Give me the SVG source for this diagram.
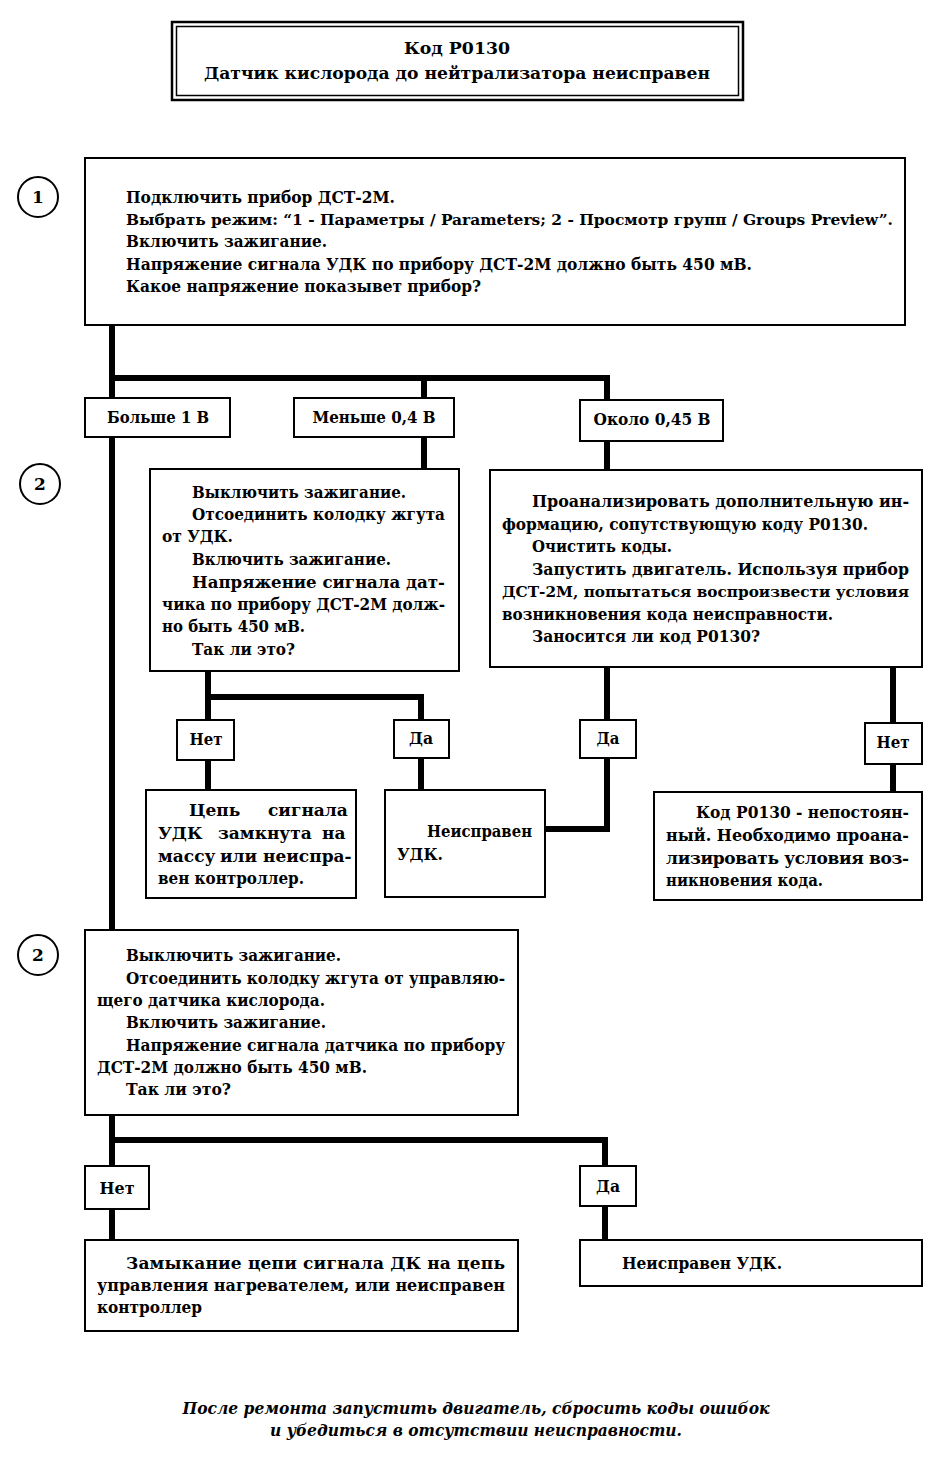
<svg xmlns="http://www.w3.org/2000/svg" width="951" height="1466" viewBox="0 0 951 1466">
<style>
  .bg{fill:#ffffff}
  .box{fill:#ffffff;stroke:#000;stroke-width:2}
  .conn{fill:none;stroke:#000;stroke-width:6;stroke-linejoin:miter;stroke-linecap:butt}
  .t{font-family:"DejaVu Serif","Liberation Serif",serif;font-weight:bold;font-size:17px;fill:#000}
  .s{font-size:15px}
  .c{text-anchor:middle}
  .it{font-style:italic}
  .step{fill:#fff;stroke:#000;stroke-width:2}
</style>
<rect class="bg" x="0" y="0" width="951" height="1466"/>

<g id="connectors">
  <path class="conn" d="M112 325 V930"/>
  <path class="conn" d="M112 378 H607 V400"/>
  <path class="conn" d="M424 378 V398"/>
  <path class="conn" d="M424 437 V470"/>
  <path class="conn" d="M607 441 V470"/>
  <path class="conn" d="M208 671 V720"/>
  <path class="conn" d="M208 697 H421 V720"/>
  <path class="conn" d="M208 760 V790"/>
  <path class="conn" d="M421 758 V790"/>
  <path class="conn" d="M607 667 V720"/>
  <path class="conn" d="M607 758 V829 H545"/>
  <path class="conn" d="M893 667 V723"/>
  <path class="conn" d="M893 764 V792"/>
  <path class="conn" d="M112 1115 V1239"/>
  <path class="conn" d="M112 1140 H605 V1166"/>
  <path class="conn" d="M605 1206 V1239"/>
</g>

<g id="title">
  <rect x="172" y="22" width="571" height="78" fill="#fff" stroke="#000" stroke-width="2.5"/>
  <rect x="176.5" y="26.5" width="562" height="69" fill="none" stroke="#000" stroke-width="1.5"/>
  <text class="t c" x="457" y="54" textLength="106" lengthAdjust="spacingAndGlyphs">Код P0130</text>
  <text class="t c" x="457" y="79" textLength="506" lengthAdjust="spacingAndGlyphs">Датчик кислорода до нейтрализатора неисправен</text>
</g>

<g id="step1">
  <ellipse class="step" cx="38" cy="197" rx="20" ry="20"/>
  <text class="t c" x="38" y="203">1</text>
</g>
<g id="step2a">
  <ellipse class="step" cx="40" cy="484" rx="20" ry="20"/>
  <text class="t c" x="40" y="490">2</text>
</g>
<g id="step2b">
  <ellipse class="step" cx="38" cy="955" rx="20" ry="20"/>
  <text class="t c" x="38" y="961">2</text>
</g>

<g id="box1">
  <rect class="box" x="85" y="158" width="820" height="167"/>
  <text class="t" x="126" y="203" textLength="269" lengthAdjust="spacingAndGlyphs">Подключить прибор ДСТ-2М.</text>
  <text class="t s" x="126" y="225" textLength="767" lengthAdjust="spacingAndGlyphs">Выбрать режим: “1 - Параметры / Parameters; 2 - Просмотр групп / Groups Preview”.</text>
  <text class="t" x="126" y="247" textLength="201" lengthAdjust="spacingAndGlyphs">Включить зажигание.</text>
  <text class="t" x="126" y="270" textLength="626" lengthAdjust="spacingAndGlyphs">Напряжение сигнала УДК по прибору ДСТ-2М должно быть 450 мВ.</text>
  <text class="t" x="126" y="292" textLength="355" lengthAdjust="spacingAndGlyphs">Какое напряжение показывет прибор?</text>
</g>

<g id="more1v">
  <rect class="box" x="85" y="398" width="145" height="39"/>
  <text class="t c" x="158" y="423" textLength="102" lengthAdjust="spacingAndGlyphs">Больше 1 В</text>
</g>
<g id="less04v">
  <rect class="box" x="294" y="398" width="160" height="39"/>
  <text class="t c" x="374" y="423" textLength="123" lengthAdjust="spacingAndGlyphs">Меньше 0,4 В</text>
</g>
<g id="about045v">
  <rect class="box" x="580" y="400" width="143" height="41"/>
  <text class="t c" x="652" y="425" textLength="117" lengthAdjust="spacingAndGlyphs">Около 0,45 В</text>
</g>

<g id="boxA">
  <rect class="box" x="150" y="469" width="309" height="202"/>
  <text class="t" x="192" y="498" textLength="214" lengthAdjust="spacingAndGlyphs">Выключить зажигание.</text>
  <text class="t" x="192" y="520" textLength="253" lengthAdjust="spacingAndGlyphs">Отсоединить колодку жгута</text>
  <text class="t" x="162" y="542" textLength="71" lengthAdjust="spacingAndGlyphs">от УДК.</text>
  <text class="t" x="192" y="565" textLength="199" lengthAdjust="spacingAndGlyphs">Включить зажигание.</text>
  <text class="t" x="192" y="588" textLength="253" lengthAdjust="spacingAndGlyphs">Напряжение сигнала дат-</text>
  <text class="t" x="162" y="610" textLength="283" lengthAdjust="spacingAndGlyphs">чика по прибору ДСТ-2М долж-</text>
  <text class="t" x="162" y="632" textLength="143" lengthAdjust="spacingAndGlyphs">но быть 450 мВ.</text>
  <text class="t" x="192" y="655" textLength="103" lengthAdjust="spacingAndGlyphs">Так ли это?</text>
</g>

<g id="noA">
  <rect class="box" x="177" y="720" width="57" height="40"/>
  <text class="t c" x="206" y="745" textLength="33" lengthAdjust="spacingAndGlyphs">Нет</text>
</g>
<g id="yesA">
  <rect class="box" x="394" y="720" width="55" height="38"/>
  <text class="t c" x="421" y="744" textLength="24" lengthAdjust="spacingAndGlyphs">Да</text>
</g>

<g id="boxB">
  <rect class="box" x="146" y="790" width="210" height="108"/>
  <text class="t" y="816"><tspan x="189">Цепь</tspan> <tspan x="268">сигнала</tspan></text>
  <text class="t" y="839"><tspan x="158">УДК</tspan> <tspan x="218">замкнута</tspan> <tspan x="322">на</tspan></text>
  <text class="t" y="862"><tspan x="158">массу</tspan> <tspan x="220">или</tspan> <tspan x="263">неиспра-</tspan></text>
  <text class="t" x="158" y="884" textLength="146" lengthAdjust="spacingAndGlyphs">вен контроллер.</text>
</g>

<g id="boxC">
  <rect class="box" x="385" y="790" width="160" height="107"/>
  <text class="t" x="427" y="837" textLength="105" lengthAdjust="spacingAndGlyphs">Неисправен</text>
  <text class="t" x="397" y="860" textLength="46" lengthAdjust="spacingAndGlyphs">УДК.</text>
</g>

<g id="boxD">
  <rect class="box" x="490" y="470" width="432" height="197"/>
  <text class="t" x="532" y="507" textLength="377" lengthAdjust="spacingAndGlyphs">Проанализировать дополнительную ин-</text>
  <text class="t" x="502" y="530" textLength="366" lengthAdjust="spacingAndGlyphs">формацию, сопутствующую коду P0130.</text>
  <text class="t" x="532" y="552" textLength="140" lengthAdjust="spacingAndGlyphs">Очистить коды.</text>
  <text class="t" x="532" y="575" textLength="377" lengthAdjust="spacingAndGlyphs">Запустить двигатель. Используя прибор</text>
  <text class="t s" x="502" y="597" textLength="407" lengthAdjust="spacingAndGlyphs">ДСТ-2М, попытаться воспроизвести условия</text>
  <text class="t" x="502" y="620" textLength="331" lengthAdjust="spacingAndGlyphs">возникновения кода неисправности.</text>
  <text class="t" x="532" y="642" textLength="228" lengthAdjust="spacingAndGlyphs">Заносится ли код P0130?</text>
</g>

<g id="yesD">
  <rect class="box" x="580" y="720" width="56" height="38"/>
  <text class="t c" x="608" y="744" textLength="23" lengthAdjust="spacingAndGlyphs">Да</text>
</g>
<g id="noD">
  <rect class="box" x="865" y="723" width="57" height="41"/>
  <text class="t c" x="893" y="748" textLength="33" lengthAdjust="spacingAndGlyphs">Нет</text>
</g>

<g id="boxE">
  <rect class="box" x="654" y="792" width="268" height="108"/>
  <text class="t" x="696" y="818" textLength="213" lengthAdjust="spacingAndGlyphs">Код P0130 - непостоян-</text>
  <text class="t" x="666" y="841" textLength="243" lengthAdjust="spacingAndGlyphs">ный. Необходимо проана-</text>
  <text class="t" x="666" y="864" textLength="243" lengthAdjust="spacing">лизировать условия воз-</text>
  <text class="t" x="666" y="886" textLength="157" lengthAdjust="spacingAndGlyphs">никновения кода.</text>
</g>

<g id="box2b">
  <rect class="box" x="85" y="930" width="433" height="185"/>
  <text class="t" x="126" y="961" textLength="215" lengthAdjust="spacingAndGlyphs">Выключить зажигание.</text>
  <text class="t" x="126" y="984" textLength="379" lengthAdjust="spacingAndGlyphs">Отсоединить колодку жгута от управляю-</text>
  <text class="t" x="97" y="1006" textLength="228" lengthAdjust="spacingAndGlyphs">щего датчика кислорода.</text>
  <text class="t" x="126" y="1028" textLength="200" lengthAdjust="spacingAndGlyphs">Включить зажигание.</text>
  <text class="t" x="126" y="1051" textLength="379" lengthAdjust="spacingAndGlyphs">Напряжение сигнала датчика по прибору</text>
  <text class="t" x="97" y="1073" textLength="270" lengthAdjust="spacingAndGlyphs">ДСТ-2М должно быть 450 мВ.</text>
  <text class="t" x="126" y="1095" textLength="105" lengthAdjust="spacingAndGlyphs">Так ли это?</text>
</g>

<g id="noB">
  <rect class="box" x="85" y="1166" width="64" height="43"/>
  <text class="t c" x="117" y="1194" textLength="35" lengthAdjust="spacingAndGlyphs">Нет</text>
</g>
<g id="yesB">
  <rect class="box" x="580" y="1166" width="56" height="40"/>
  <text class="t c" x="608" y="1192" textLength="24" lengthAdjust="spacingAndGlyphs">Да</text>
</g>

<g id="boxF">
  <rect class="box" x="85" y="1240" width="433" height="91"/>
  <text class="t" x="126" y="1269" textLength="379" lengthAdjust="spacing">Замыкание цепи сигнала ДК на цепь</text>
  <text class="t" x="97" y="1291" textLength="408" lengthAdjust="spacingAndGlyphs">управления нагревателем, или неисправен</text>
  <text class="t" x="97" y="1313" textLength="105" lengthAdjust="spacingAndGlyphs">контроллер</text>
</g>

<g id="boxG">
  <rect class="box" x="580" y="1240" width="342" height="46"/>
  <text class="t" x="622" y="1269" textLength="160" lengthAdjust="spacingAndGlyphs">Неисправен УДК.</text>
</g>

<g id="footer">
  <text class="t c it" x="476" y="1414" textLength="587" lengthAdjust="spacingAndGlyphs">После ремонта запустить двигатель, сбросить коды ошибок</text>
  <text class="t c it" x="476" y="1436" textLength="412" lengthAdjust="spacingAndGlyphs">и убедиться в отсутствии неисправности.</text>
</g>
</svg>
